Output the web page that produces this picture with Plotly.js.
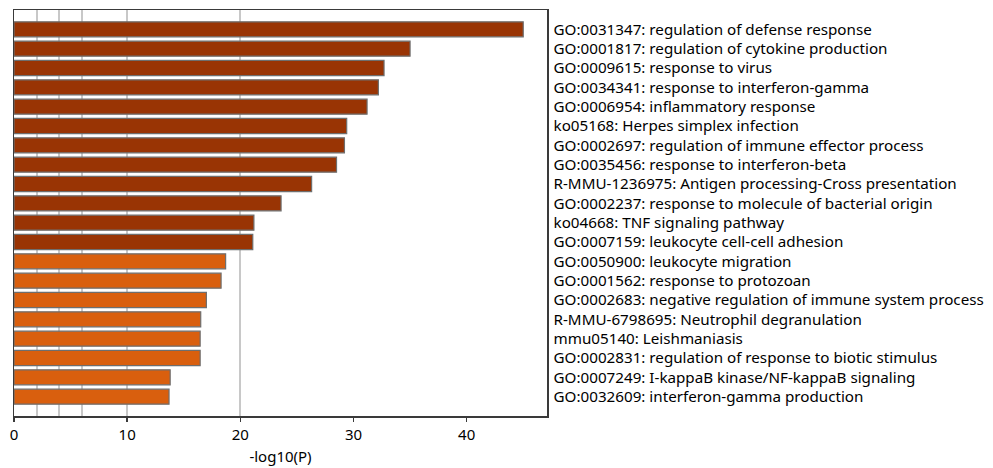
<!DOCTYPE html>
<html>
<head>
<meta charset="utf-8">
<script src="https://cdn.plot.ly/plotly-3.0.1.min.js"></script>
<style>html,body{margin:0;padding:0;background:#fff;}#chart{width:993px;height:468px;}</style>
</head>
<body>
<div id="chart"></div>
<script>
// Term labels (top to bottom)
const terms = [
  "GO:0031347: regulation of defense response",
  "GO:0001817: regulation of cytokine production",
  "GO:0009615: response to virus",
  "GO:0034341: response to interferon-gamma",
  "GO:0006954: inflammatory response",
  "ko05168: Herpes simplex infection",
  "GO:0002697: regulation of immune effector process",
  "GO:0035456: response to interferon-beta",
  "R-MMU-1236975: Antigen processing-Cross presentation",
  "GO:0002237: response to molecule of bacterial origin",
  "ko04668: TNF signaling pathway",
  "GO:0007159: leukocyte cell-cell adhesion",
  "GO:0050900: leukocyte migration",
  "GO:0001562: response to protozoan",
  "GO:0002683: negative regulation of immune system process",
  "R-MMU-6798695: Neutrophil degranulation",
  "mmu05140: Leishmaniasis",
  "GO:0002831: regulation of response to biotic stimulus",
  "GO:0007249: I-kappaB kinase/NF-kappaB signaling",
  "GO:0032609: interferon-gamma production"
];
// -log10(P) values
const logP = [45.0, 35.0, 32.7, 32.2, 31.2, 29.4, 29.2, 28.5, 26.3, 23.6,
              21.2, 21.1, 18.7, 18.3, 17.0, 16.5, 16.45, 16.45, 13.8, 13.7];
// significance tier of each term (1 = strongest group)
const tier = [1,1,1,1,1,1,1,1,1,1,1,1,2,2,2,2,2,2,2,2];
// x tick values
const xTicks = [0, 10, 20, 30, 40];
const gridVals = [2, 4, 6, 10, 20];

const tierColor = {1: '#993404', 2: '#D95F0E'};
const xRange = [0, 47.1];

const traces = [
  {
    type: 'bar', orientation: 'h',
    x: logP, y: terms,
    marker: {color: tier.map(t => tierColor[t]), line: {color: '#6e6e6e', width: 1.2}},
    width: 0.78,
    xaxis: 'x', yaxis: 'y',
    hoverinfo: 'x+y'
  },
  {type: 'scatter', x: [], y: [], xaxis: 'x2', yaxis: 'y', showlegend: false}
];

const layout = {
  width: 993, height: 468,
  margin: {l: 14, r: 446, t: 10, b: 52},
  paper_bgcolor: '#fff', plot_bgcolor: '#fff',
  showlegend: false,
  font: {family: 'Noto Sans, sans-serif', size: 14, color: '#000'},
  xaxis: {
    range: xRange, tickvals: gridVals, showticklabels: false, ticks: '',
    showgrid: true, gridcolor: '#c8c8c8', gridwidth: 2, zeroline: false,
    showline: true, linecolor: '#3a3a3a', linewidth: 1.5, mirror: true,
    fixedrange: true
  },
  xaxis2: {
    overlaying: 'x', anchor: 'y', side: 'bottom', range: xRange,
    tickvals: xTicks, ticks: 'outside', ticklen: 5, tickwidth: 1.5, tickcolor: '#3a3a3a',
    showgrid: false, zeroline: false, showline: false,
    tickfont: {size: 15},
    title: {text: '-log10(P)', font: {size: 15}, standoff: 8}
  },
  yaxis: {
    type: 'category', categoryorder: 'array', categoryarray: terms,
    range: [20, -1], side: 'right', ticks: '', showgrid: false, zeroline: false,
    showline: true, linecolor: '#3a3a3a', linewidth: 1.5, mirror: true,
    tickfont: {size: 15.2}, ticklabelstandoff: 2
  },
  bargap: 0.2
};

Plotly.newPlot('chart', traces, layout, {displayModeBar: false, staticPlot: true});
</script>
</body>
</html>
